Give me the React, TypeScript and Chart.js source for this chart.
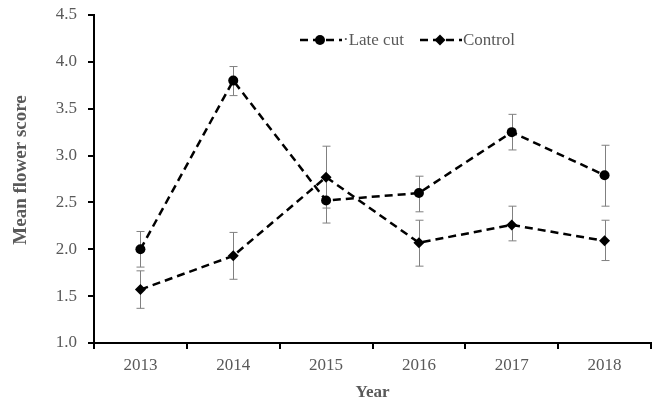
import React, { useEffect, useRef } from "react";
import { Chart, registerables } from "chart.js";

Chart.register(...registerables);

const years = ["2013", "2014", "2015", "2016", "2017", "2018"];
const lateCut = [2.0, 3.8, 2.52, 2.6, 3.25, 2.79];
const lateCutHigh = [2.19, 3.95, 2.76, 2.78, 3.44, 3.11];
const lateCutLow = [1.81, 3.64, 2.28, 2.4, 3.06, 2.46];
const control = [1.57, 1.93, 2.77, 2.07, 2.26, 2.09];
const controlHigh = [1.77, 2.18, 3.1, 2.31, 2.46, 2.31];
const controlLow = [1.37, 1.68, 2.44, 1.82, 2.09, 1.88];

const FONT = "'Liberation Serif', 'Times New Roman', serif";
const GRAY = "#595959";

const errorBarPlugin = {
  id: "errorBars",
  beforeDatasetsDraw(chart: any) {
    const ctx = chart.ctx;
    const y = chart.scales.y;
    const sets = [
      { hi: lateCutHigh, lo: lateCutLow, idx: 0 },
      { hi: controlHigh, lo: controlLow, idx: 1 },
    ];
    ctx.save();
    ctx.strokeStyle = "#808080";
    ctx.lineWidth = 1;
    for (const s of sets) {
      const meta = chart.getDatasetMeta(s.idx);
      meta.data.forEach((pt: any, i: number) => {
        const x = Math.round(pt.x) + 0.5;
        const yh = y.getPixelForValue(s.hi[i]);
        const yl = y.getPixelForValue(s.lo[i]);
        ctx.beginPath();
        ctx.moveTo(x, yh);
        ctx.lineTo(x, yl);
        ctx.moveTo(x - 4, yh);
        ctx.lineTo(x + 4, yh);
        ctx.moveTo(x - 4, yl);
        ctx.lineTo(x + 4, yl);
        ctx.stroke();
      });
    }
    ctx.restore();
  },
};

const legendPlugin = {
  id: "customLegend",
  afterDraw(chart: any) {
    const ctx = chart.ctx;
    const items = [
      { label: "\u00B7Late cut", x: 300, style: "circle" },
      { label: "Control", x: 420, style: "diamond" },
    ];
    const yy = 40;
    ctx.save();
    for (const it of items) {
      ctx.strokeStyle = "#000";
      ctx.lineWidth = 2.5;
      ctx.setLineDash([8, 5]);
      ctx.beginPath();
      ctx.moveTo(it.x, yy);
      ctx.lineTo(it.x + 42, yy);
      ctx.stroke();
      ctx.setLineDash([]);
      ctx.fillStyle = "#000";
      const cx = it.x + 20;
      ctx.beginPath();
      if (it.style === "circle") {
        ctx.arc(cx, yy, 5, 0, Math.PI * 2);
      } else {
        ctx.moveTo(cx, yy - 5.5);
        ctx.lineTo(cx + 5.5, yy);
        ctx.lineTo(cx, yy + 5.5);
        ctx.lineTo(cx - 5.5, yy);
        ctx.closePath();
      }
      ctx.fill();
      ctx.fillStyle = GRAY;
      ctx.font = `17px ${FONT}`;
      ctx.textBaseline = "middle";
      ctx.textAlign = "left";
      ctx.fillText(it.label, it.x + 43, yy + 1);
    }
    // y axis title
    ctx.translate(21, 170);
    ctx.rotate(-Math.PI / 2);
    ctx.font = `bold 19px ${FONT}`;
    ctx.fillStyle = GRAY;
    ctx.textAlign = "center";
    ctx.textBaseline = "middle";
    ctx.fillText("Mean flower score", 0, 0);
    ctx.restore();
  },
};

export default function App() {
  const ref = useRef<HTMLCanvasElement>(null);
  useEffect(() => {
    document.body.style.margin = "0";
    const chart = new Chart(ref.current!, {
      type: "line",
      data: {
        labels: years,
        datasets: [
          {
            label: "Late cut",
            data: lateCut,
            borderColor: "#000",
            backgroundColor: "#000",
            borderWidth: 2.5,
            borderDash: [8, 5],
            pointStyle: "circle",
            pointRadius: 5,
            pointBackgroundColor: "#000",
            pointBorderWidth: 0,
            tension: 0,
          },
          {
            label: "Control",
            data: control,
            borderColor: "#000",
            backgroundColor: "#000",
            borderWidth: 2.5,
            borderDash: [8, 5],
            pointStyle: "rectRot",
            pointRadius: 5.5,
            pointBackgroundColor: "#000",
            pointBorderWidth: 0,
            tension: 0,
          },
        ],
      },
      options: {
        animation: false,
        responsive: false,
        layout: { padding: { top: 15, right: 8, left: 0, bottom: 0 } },
        plugins: { legend: { display: false }, tooltip: { enabled: false } },
        scales: {
          x: {
            offset: true,
            grid: {
              offset: true,
              drawOnChartArea: false,
              drawTicks: true,
              tickLength: 6,
              color: "#000",
              lineWidth: 2,
            },
            border: { display: true, color: "#000", width: 2 },
            ticks: { color: GRAY, font: { family: FONT, size: 17 }, padding: 6 },
            title: {
              display: true,
              text: "Year",
              color: GRAY,
              font: { family: FONT, size: 17, weight: "bold" },
              padding: { top: 4, bottom: 0 },
            },
            afterFit(scale: any) {
              scale.height = 60;
              scale.paddingLeft = 0;
              scale.paddingRight = 0;
            },
          },
          y: {
            min: 1.0,
            max: 4.5,
            grid: {
              drawOnChartArea: false,
              drawTicks: true,
              tickLength: 6,
              color: "#000",
              lineWidth: 2,
            },
            border: { display: true, color: "#000", width: 2 },
            ticks: {
              stepSize: 0.5,
              color: GRAY,
              font: { family: FONT, size: 17 },
              padding: 11,
              callback: (v: any) => Number(v).toFixed(1),
            },
            afterFit(scale: any) {
              scale.width = 94;
              scale.paddingTop = 0;
              scale.paddingBottom = 0;
            },
          },
        },
      },
      plugins: [errorBarPlugin, legendPlugin],
    });
    return () => chart.destroy();
  }, []);
  return <canvas ref={ref} width={659} height={403} style={{ display: "block" }} />;
}
